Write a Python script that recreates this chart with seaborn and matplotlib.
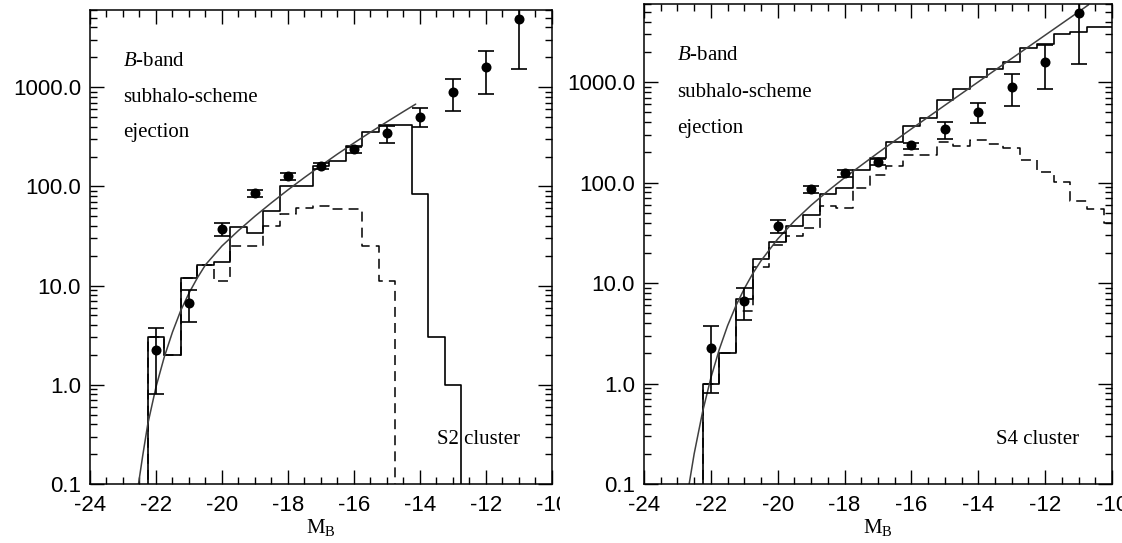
import numpy as np
import pandas as pd
import matplotlib
matplotlib.use("Agg")
import matplotlib.pyplot as plt
import seaborn as sns
from matplotlib.ticker import MultipleLocator, LogLocator, FuncFormatter, NullFormatter
from matplotlib.transforms import Bbox, TransformedBbox, blended_transform_factory

# ---------------------------------------------------------------- data
# Observed B-band luminosity function (same in both panels)
mag_obs = [-22, -21, -20, -19, -18, -17, -16, -15, -14, -13, -12, -11]
n_obs = [2.24, 6.7, 37, 86, 126, 160, 237, 344, 499, 890, 1590, 4840]
n_obs_lo = [0.81, 4.3, 31.5, 79, 115, 150, 216, 273, 395, 573, 855, 1520]
n_obs_hi = [3.7, 9.0, 42.7, 93, 135, 171, 250, 405, 620, 1200, 2340, 8200]

# Model galaxy counts in 0.5 mag bins (bin centres)
mag_bins = [-22.5, -22.0, -21.5, -21.0, -20.5, -20.0, -19.5, -19.0, -18.5,
            -18.0, -17.5, -17.0, -16.5, -16.0, -15.5, -15.0, -14.5, -14.0,
            -13.5, -13.0, -12.5, -12.0, -11.5, -11.0, -10.5, -10.0]

s2_all = [0, 3, 2, 12, 16, 17.4, 39, 34, 57, 102, 102, 160, 180, 258, 350,
          420, 420, 83, 3, 1, 0, 0, 0, 0, 0, 0]
s2_dashed = [0, 3, 2, 12, 16, 11, 25, 25, 40, 53, 61, 63, 59, 59, 25, 11,
             0, 0, 0, 0, 0, 0, 0, 0, 0, 0]

s4_all = [0, 1, 2, 7, 17.4, 25.9, 37.3, 47.5, 76.6, 89, 135, 177, 253, 364,
          441, 669, 853, 1138, 1345, 1603, 2205, 2378, 3010, 3180, 3510, 3510]
s4_dashed = [0, 1, 2, 5.3, 14.5, 24, 29.6, 35, 58, 56, 88, 118, 148, 188,
             188, 255, 234, 265, 243, 220, 167, 128, 102, 66, 55, 40]

# Schechter fits
s2_fit_mag = [-22.53, -22.40, -22.25, -22.00, -21.75, -21.50, -21.25, -21.00,
              -20.75, -20.50, -20.00, -19.50, -19.00, -18.50, -18.00, -17.50,
              -17.00, -16.50, -16.00, -15.50, -15.00, -14.50, -14.13]
s2_fit_n = [0.10, 0.195, 0.40, 0.95, 1.9, 3.4, 5.6, 8.4, 11.9, 16.2, 25.1,
            35.9, 50.1, 68.4, 92.3, 123, 162, 212, 274, 352, 448, 568, 675]

s4_fit_mag = [-22.65, -22.50, -22.25, -22.00, -21.75, -21.50, -21.25, -21.00,
              -20.75, -20.50, -20.00, -19.50, -19.00, -18.50, -18.00, -17.00,
              -16.00, -15.00, -14.00, -13.00, -12.00, -11.00, -10.70]
s4_fit_n = [0.10, 0.20, 0.52, 1.14, 2.18, 3.77, 5.96, 8.8, 12.4, 16.7, 27.5,
            41.6, 59.6, 82.6, 112, 198, 343, 589, 1007, 1722, 2938, 5012, 5900]

y_ticks = [0.1, 1.0, 10.0, 100.0, 1000.0]
x_ticks = [-24, -22, -20, -18, -16, -14, -12, -10]
info_lines = [r"$B$-band", "subhalo-scheme", "ejection"]
cluster_names = ["S2 cluster", "S4 cluster"]

# ---------------------------------------------------------------- style
sns.set_theme(style="ticks")
plt.rcParams.update({
    "font.family": ["Liberation Sans", "DejaVu Sans"],
    "axes.unicode_minus": False,
    "mathtext.fontset": "custom",
    "mathtext.rm": "Liberation Serif",
    "mathtext.it": "Liberation Serif:italic",
    "mathtext.bf": "Liberation Serif:bold",
    "axes.edgecolor": "black",
    "axes.labelcolor": "black",
    "text.color": "black",
    "xtick.color": "black",
    "ytick.color": "black",
    "axes.linewidth": 1.1,
})
SERIF = "Liberation Serif"

fig = plt.figure(figsize=(11.22, 5.43), dpi=100)
ax_l = fig.add_axes([0.0802, 0.10866, 0.41176, 0.87293])
ax_r = fig.add_axes([0.5740, 0.10866, 0.41711, 0.88398])

edges = [m - 0.25 for m in mag_bins] + [mag_bins[-1] + 0.25]


def draw_panel(ax, n_all, n_dashed, fit_mag, fit_n, name):
    table = pd.DataFrame({"mag": mag_bins, "all": n_all, "dashed": n_dashed})
    sns.histplot(data=table, x="mag", weights="dashed", bins=edges,
                 element="step", fill=False, color="black", linewidth=1.1,
                 linestyle=(0, (6.5, 4)), ax=ax)
    sns.histplot(data=table, x="mag", weights="all", bins=edges,
                 element="step", fill=False, color="black", linewidth=1.2,
                 ax=ax)
    sns.lineplot(x=fit_mag, y=fit_n, ax=ax, color="0.25", linewidth=1.1,
                 estimator=None, sort=True)

    obs = np.array(n_obs)
    yerr = [obs - np.array(n_obs_lo), np.array(n_obs_hi) - obs]
    ax.errorbar(mag_obs, n_obs, yerr=yerr, fmt="none", ecolor="black",
                elinewidth=1.2, capsize=5.8, capthick=1.2, zorder=4)
    sns.scatterplot(x=mag_obs, y=n_obs, ax=ax, s=52, color="black",
                    edgecolor="black", linewidth=0, zorder=5)

    ax.set_yscale("log")
    ax.set_xlim(-24, -10)
    ax.set_ylim(0.1, 6000)

    ax.xaxis.set_major_locator(MultipleLocator(2))
    ax.xaxis.set_minor_locator(MultipleLocator(0.5))
    ax.set_xticks(x_ticks)
    ax.set_xticklabels([f"{t:d}" for t in x_ticks])
    ax.yaxis.set_major_locator(LogLocator(base=10))
    ax.yaxis.set_minor_locator(LogLocator(base=10, subs=np.arange(2, 10)))
    ax.yaxis.set_minor_formatter(NullFormatter())
    ax.set_yticks(y_ticks)
    ax.yaxis.set_major_formatter(FuncFormatter(lambda v, p: f"{v:.1f}"))
    ax.set_ylim(0.1, 6000)

    ax.tick_params(which="both", direction="in", top=True, right=True,
                   width=1.0, labelsize=16)
    ax.tick_params(which="major", length=10)
    ax.tick_params(which="minor", length=5)
    ax.tick_params(axis="x", which="major", pad=8)
    ax.tick_params(axis="y", which="major", pad=6.5)

    ax.set_ylabel("")
    ax.set_xlabel(r"M$_{\rm B}$", fontsize=15, family=SERIF, labelpad=1)

    tr = blended_transform_factory(ax.transData, ax.transAxes)
    for txt, yy in zip(info_lines, [0.8825, 0.8065, 0.732]):
        ax.text(-23.0, yy, txt, transform=tr, fontsize=15, family=SERIF,
                va="baseline", ha="left")
    ax.text(-13.47, 0.084, name, transform=tr, fontsize=15, family=SERIF,
            va="baseline", ha="left")


draw_panel(ax_l, s2_all, s2_dashed, s2_fit_mag, s2_fit_n, cluster_names[0])
draw_panel(ax_r, s4_all, s4_dashed, s4_fit_mag, s4_fit_n, cluster_names[1])

# the left panel's artwork stops where the right one begins
fig.canvas.draw()
clip = TransformedBbox(Bbox([[0, 0], [560 / 1122, 1]]), fig.transFigure)
for lab in ax_l.xaxis.get_ticklabels():
    lab.set_clip_box(clip)
    lab.set_clip_on(True)

fig.savefig("out.png", dpi=100)
